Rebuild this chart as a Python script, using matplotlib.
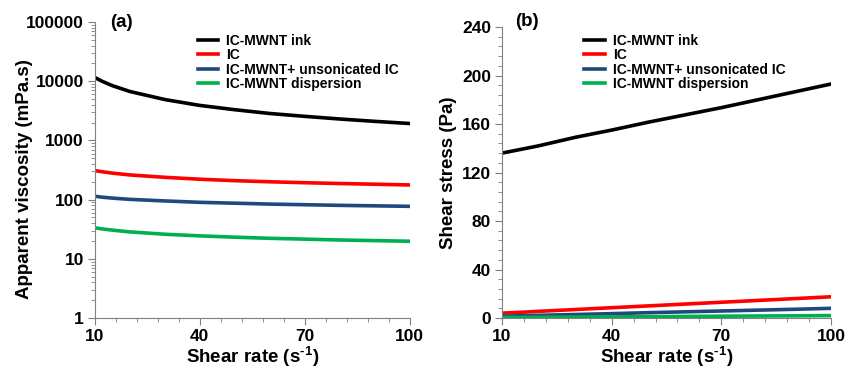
import matplotlib.pyplot as plt
from matplotlib.ticker import FixedLocator, NullFormatter, LogLocator

plt.rcParams['font.family'] = ['Liberation Sans', 'DejaVu Sans']
plt.rcParams['font.weight'] = 'bold'
plt.rcParams['mathtext.fontset'] = 'custom'
plt.rcParams['mathtext.rm'] = 'Liberation Sans:bold'
plt.rcParams['mathtext.bf'] = 'Liberation Sans:bold'

# data
shear_rate = [10, 12, 15, 20, 30, 40, 50, 60, 70, 80, 90, 100]
labels = ['IC-MWNT ink', 'IC', 'IC-MWNT+ unsonicated IC', 'IC-MWNT dispersion']
colors = ['#000000', '#FF0000', '#1F497D', '#00B050']

viscosity = [
    [11500, 10000, 8400, 6700, 4900, 3900, 3300, 2850, 2550, 2300, 2100, 1930],
    [309, 296, 280, 261, 238, 221, 209, 200, 193, 187, 182, 177],
    [114, 110, 106, 101, 95, 90, 87, 84, 82, 80, 78.5, 77],
    [33.4, 32, 30.5, 28.5, 26, 24.4, 23.2, 22.2, 21.5, 20.8, 20.3, 19.8],
]
stress = [
    [136, 137.2, 139, 142, 149, 155, 161.5, 167.5, 173.5, 180, 186.5, 193],
    [4, 4.3, 4.7, 5.5, 7, 8.5, 10, 11.5, 13, 14.5, 16, 17.5],
    [1.5, 1.6, 1.9, 2.2, 2.9, 3.6, 4.4, 5.1, 5.8, 6.5, 7.2, 8],
    [0.4, 0.45, 0.5, 0.6, 0.8, 0.95, 1.1, 1.3, 1.5, 1.65, 1.8, 2],
]

fig = plt.figure(figsize=(8.48, 3.70), dpi=100)
ax1 = fig.add_axes([0.112, 0.1405, 0.371, 0.80])
ax2 = fig.add_axes([0.592, 0.1405, 0.388, 0.7865])

for lab, c, v in zip(labels, colors, viscosity):
    ax1.plot(shear_rate, v, color=c, lw=2.6, label=lab)
for lab, c, s in zip(labels, colors, stress):
    ax2.plot(shear_rate, s, color=c, lw=2.6, label=lab)

ax1.set_yscale('log')
ax1.set_ylim(1, 100000)
ax1.yaxis.set_minor_locator(LogLocator(base=10, subs=range(2, 10), numticks=10))
ax1.yaxis.set_minor_formatter(NullFormatter())
ax1.set_yticks([1, 10, 100, 1000, 10000, 100000])
ax1.set_yticklabels(['1', '10', '100', '1000', '10000', '100000'])
ax1.set_ylabel('Apparent viscosity (mPa.s)', fontsize=13.5, fontweight='bold')
ax1.yaxis.set_label_coords(-0.197, 0.47)

ax2.set_ylim(0, 240)
ax2.set_yticks(range(0, 241, 40))
ax2.yaxis.set_minor_locator(FixedLocator(range(0, 241, 8)))
ax2.set_ylabel('Shear stress (Pa)', fontsize=13.5, fontweight='bold')
ax2.yaxis.set_label_coords(-0.137, 0.5)

for ax in (ax1, ax2):
    ax.set_xlim(10, 100)
    ax.set_xticks([10, 40, 70, 100])
    ax.xaxis.set_minor_locator(FixedLocator(range(10, 101, 6)))
    ax.set_xlabel(r'Shear rate (s$^{\text{-}1}$)', fontsize=13.5, fontweight='bold', labelpad=0)
    for side in ['top', 'right']:
        ax.spines[side].set_visible(False)
    for side in ['left', 'bottom']:
        ax.spines[side].set_color('#808080')
    ax.tick_params(which='both', color='#808080', direction='out')
    ax.tick_params(which='major', length=5, labelsize=12.5, pad=3)
    ax.tick_params(which='minor', length=3)
    for t in ax.get_xticklabels() + ax.get_yticklabels():
        t.set_fontweight('bold')

fig.text(0.130, 0.9405, '(a)', fontsize=13.5, fontweight='bold', va='center', ha='left')
fig.text(0.607, 0.943, '(b)', fontsize=13.5, fontweight='bold', va='center', ha='left')

for ax, x0 in [(ax1, 0.233), (ax2, 0.689)]:
    ax.legend(loc='upper left', bbox_to_anchor=(x0, 0.908), bbox_transform=fig.transFigure,
              frameon=False, borderpad=0, borderaxespad=0, handlelength=1.5,
              handletextpad=0.55, labelspacing=0.02, prop={'weight': 'bold', 'size': 10})

fig.savefig('out.png', dpi=100)
